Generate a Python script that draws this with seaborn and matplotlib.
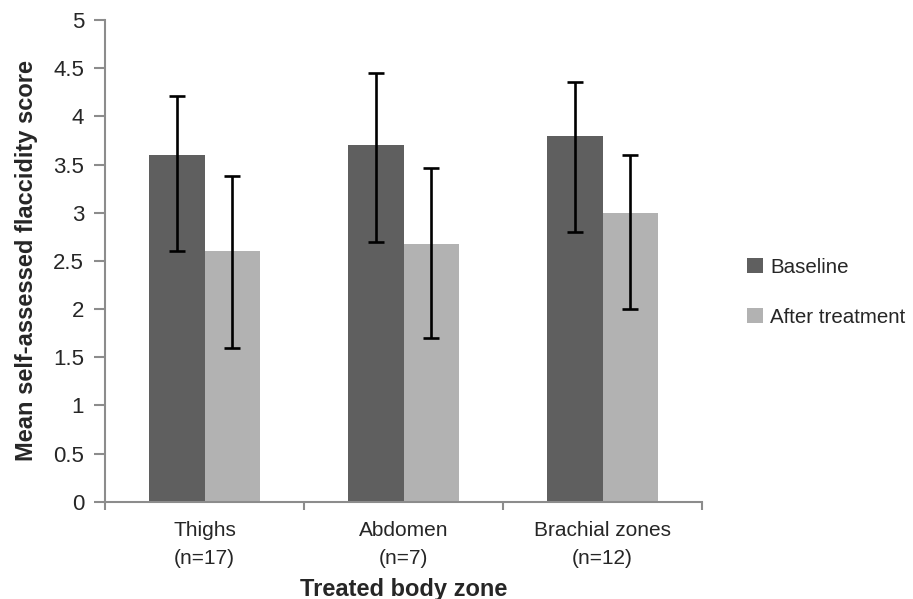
import numpy as np
import pandas as pd
import matplotlib
matplotlib.use("Agg")
import matplotlib.pyplot as plt
import seaborn as sns

zones = ["Thighs\n(n=17)", "Abdomen\n(n=7)", "Brachial zones\n(n=12)"]
groups = ["Baseline", "After treatment"]
baseline = [3.6, 3.7, 3.8]
after = [2.6, 2.68, 3.0]
# error bar ends (not symmetric)
baseline_hi = [4.21, 4.45, 4.36]
baseline_lo = [2.6, 2.7, 2.8]
after_hi = [3.38, 3.46, 3.6]
after_lo = [1.6, 1.7, 2.0]

colors = ["#5f5f5f", "#b2b2b2"]
axis_gray = "#8c8c8c"

df = pd.DataFrame({
    "zone": zones * 2,
    "group": [groups[0]] * 3 + [groups[1]] * 3,
    "score": baseline + after,
})

sns.set_style("white")
plt.rcParams["font.family"] = ["Liberation Sans", "DejaVu Sans"]

fig = plt.figure(figsize=(9.13, 5.99), dpi=100)
ax = fig.add_axes([0.115, 0.1625, 0.654, 0.804])

sns.barplot(data=df, x="zone", y="score", hue="group", palette=colors,
            width=0.56, gap=0, saturation=1, errorbar=None, ax=ax,
            edgecolor="none")

# error bars placed on the bar centres
his = [baseline_hi, after_hi]
los = [baseline_lo, after_lo]
vals = [baseline, after]
bar_sets = list(ax.containers)
for g, cont in enumerate(bar_sets):
    xs = [p.get_x() + p.get_width() / 2 for p in cont.patches]
    v = np.array(vals[g])
    lo = v - np.array(los[g])
    hi = np.array(his[g]) - v
    ax.errorbar(xs, v, yerr=[lo, hi], fmt="none", ecolor="black",
                elinewidth=1.9, capsize=5.5, capthick=1.9)

ax.set_ylim(0, 5)
ax.set_xlim(-0.5, 2.5)
ax.set_yticks(np.arange(0, 5.01, 0.5))
ax.set_yticklabels(["0", "0.5", "1", "1.5", "2", "2.5", "3", "3.5", "4", "4.5", "5"])
ax.set_xticks([-0.5, 0.5, 1.5, 2.5], minor=False)
ax.set_xticklabels([])
ax.set_xticks([0, 1, 2], minor=True)
ax.set_xticklabels(zones, minor=True, fontsize=15, linespacing=1.6)
ax.tick_params(axis="x", which="minor", length=0, pad=14, bottom=False)
ax.tick_params(axis="x", which="major", length=6, width=1.5, color=axis_gray,
               direction="out", bottom=True)
ax.tick_params(axis="y", length=8, width=1.5, color=axis_gray, direction="out",
               labelsize=16, pad=7, left=True)

for s in ["top", "right"]:
    ax.spines[s].set_visible(False)
for s in ["left", "bottom"]:
    ax.spines[s].set_color(axis_gray)
    ax.spines[s].set_linewidth(1.5)

ax.set_xlabel("Treated body zone", fontsize=17, fontweight="bold", labelpad=7)
ax.set_ylabel("Mean self-assessed flaccidity score", fontsize=17,
              fontweight="bold", labelpad=11)

ax.legend(loc="center left", bbox_to_anchor=(1.045, 0.435), frameon=False,
          fontsize=14.8, handlelength=0.75, handleheight=0.8, labelspacing=1.5,
          handletextpad=0.35)

fig.savefig("out.png", dpi=100)
